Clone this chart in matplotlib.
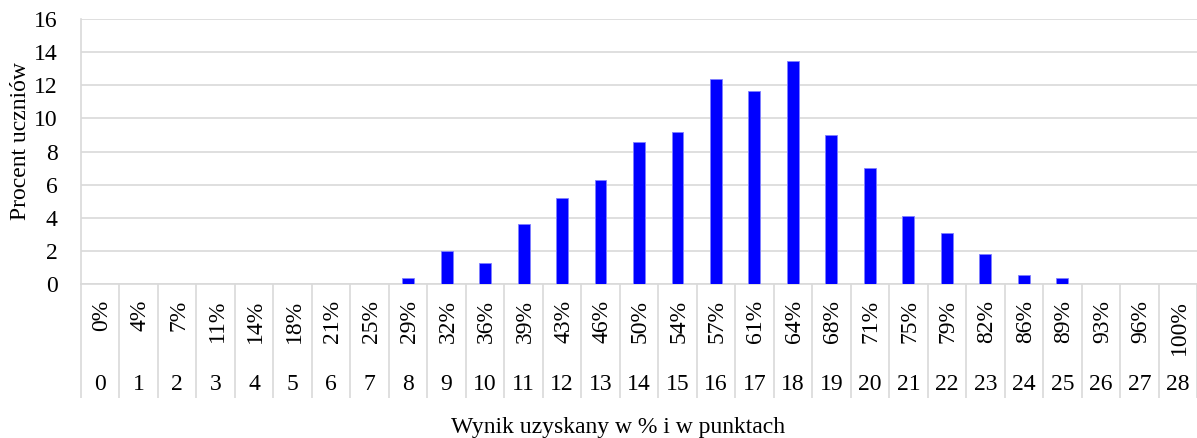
import numpy as np
import matplotlib
matplotlib.use("Agg")
import matplotlib.pyplot as plt
import matplotlib.transforms as mtransforms

plt.rcParams['font.family'] = ['Liberation Serif', 'DejaVu Serif']

points = list(range(29))
pct_labels = ['0%', '4%', '7%', '11%', '14%', '18%', '21%', '25%', '29%', '32%',
              '36%', '39%', '43%', '46%', '50%', '54%', '57%', '61%', '64%', '68%',
              '71%', '75%', '79%', '82%', '86%', '89%', '93%', '96%', '100%']
share = [0, 0, 0, 0, 0, 0, 0, 0, 0.35, 2.0, 1.25, 3.6, 5.2, 6.3, 8.6, 9.15,
         12.4, 11.65, 13.45, 9.0, 7.0, 4.1, 3.05, 1.8, 0.55, 0.35, 0, 0, 0]

fs = 17

fig = plt.figure(figsize=(11.97, 4.38), dpi=100)
ax = fig.add_axes([81 / 1197, 154 / 438, 1 - 81 / 1197, 265 / 438])

ax.bar(points, share, width=0.31, color='#0000FF', edgecolor='#8080FF', linewidth=0.6, zorder=3)

ax.set_xlim(-0.5, 28.5)
ax.set_ylim(0, 16)
ax.set_yticks(np.arange(0, 17, 2))
ax.tick_params(axis='y', length=0, labelsize=fs, pad=17)
ax.yaxis.grid(True, color='#D9D9D9', linewidth=1.2, zorder=0)
ax.set_axisbelow(True)

for s in ['top', 'right']:
    ax.spines[s].set_visible(False)
for s in ['left', 'bottom']:
    ax.spines[s].set_color('#D9D9D9')
    ax.spines[s].set_linewidth(1.2)

# category separators running down through the label area
ax.set_xticks(np.arange(-0.5, 29, 1))
ax.set_xticklabels([])
ax.tick_params(axis='x', length=82, width=1.2, color='#D9D9D9', direction='out')

trans = mtransforms.blended_transform_factory(ax.transData, ax.transAxes)
for p, lab in zip(points, pct_labels):
    ax.text(p + 0.04, -0.06, lab, transform=trans, rotation=90, ha='center', va='top', fontsize=fs)
    ax.text(p, -0.38, str(p), transform=trans, ha='center', va='center', fontsize=fs)

ax.set_ylabel('Procent uczniów', fontsize=fs)
ax.yaxis.set_label_coords(-0.045, 0.54)
fig.text(618 / 1197, 1 - 427 / 438, 'Wynik uzyskany w % i w punktach',
         ha='center', va='center', fontsize=fs)

fig.savefig('out.png', dpi=100)
